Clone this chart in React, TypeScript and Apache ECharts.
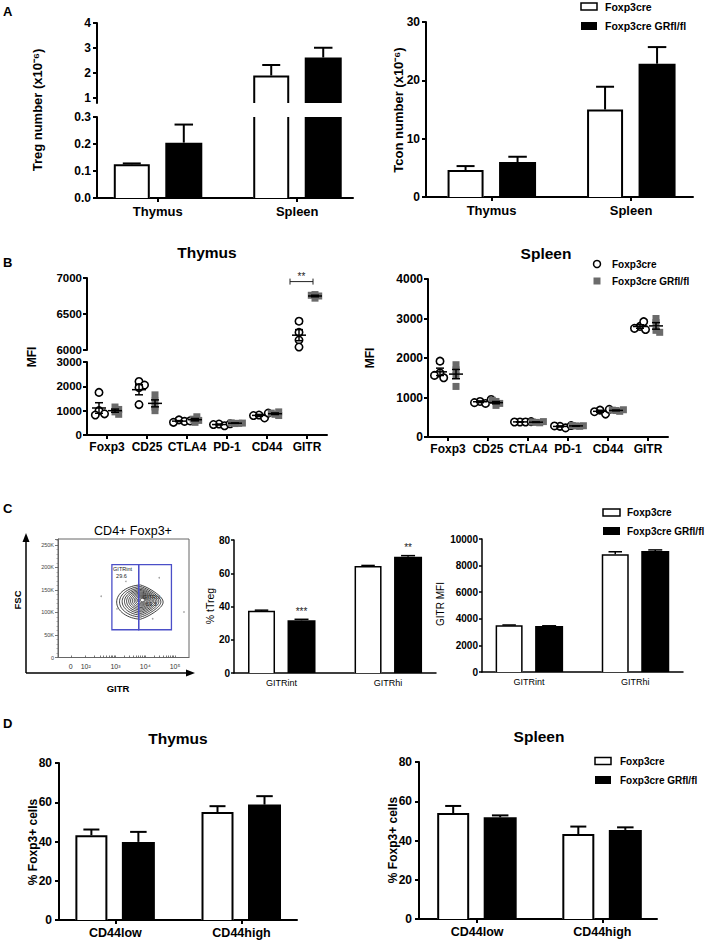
import React, { useEffect, useRef } from 'react';
import * as echarts from 'echarts';

const FONT = 'Arial, "Liberation Sans", Helvetica, sans-serif';

// ---------------- Panel A ----------------
const aCategories = ['Thymus', 'Spleen'];
const tregCreMean = [0.125, 1.9];
const tregCreSem = [0.003, 0.42];
const tregKoMean = [0.205, 2.62];
const tregKoSem = [0.067, 0.39];
const tregUpperTicks = [1, 2, 3, 4];
const tconCreMean = [4.63, 15.0];
const tconCreSem = [0.67, 3.9];
const tconKoMean = [6.0, 22.85];
const tconKoSem = [0.9, 2.85];

// ---------------- Panel B ----------------
const bMarkers = ['Foxp3', 'CD25', 'CTLA4', 'PD-1', 'CD44', 'GITR'];
const thyCre = [
  [1750, 1000, 870, 820],
  [2200, 2050, 1950, 1250],
  [620, 560, 520, 580],
  [450, 380, 430, 460],
  [820, 700, 800, 900],
  [6400, 6245, 6138, 6041],
];
const thyKo = [
  [1150, 1050, 950, 850],
  [1650, 1400, 1150, 1000],
  [520, 600, 650, 750],
  [470, 480, 500, 490],
  [850, 800, 900, 950],
  [6720, 6750, 6770, 6760],
];
const splCre = [
  [1920, 1620, 1500, 1560],
  [900, 850, 870, 950],
  [380, 380, 380, 390],
  [270, 230, 280, 290],
  [680, 580, 640, 700],
  [2800, 2720, 2750, 2920],
];
const splKo = [
  [1830, 1700, 1560, 1280],
  [900, 800, 850, 930],
  [370, 360, 380, 390],
  [280, 270, 290, 285],
  [670, 650, 680, 690],
  [3000, 2900, 2700, 2650],
];
const thySigCats = [5];
const thySigValues = [6950];
const thySigLabels = ['**'];

// ---------------- Panel C ----------------
const gitrCategories = ['GITRint', 'GITRhi'];
const tTregCreMean = [37.4, 64.4];
const tTregCreSem = [0.4, 0.3];
const tTregKoMean = [31.7, 70.0];
const tTregKoSem = [0.6, 0.6];
const tTregSig = ['***', '**'];
const gitrMfiCreMean = [3520, 8850];
const gitrMfiCreSem = [15, 190];
const gitrMfiKoMean = [3460, 9090];
const gitrMfiKoSem = [15, 90];

// flow plot
const flowXTickPos = [1.5, 2, 3, 4, 5];
const flowXTickLabels = ['0', '10²', '10³', '10⁴', '10⁵'];
const gateNames = ['GITRint', 'GITRhi'];
const gatePct = ['29.6', '69.3'];
const gateX0 = [2.88, 3.78];
const gateX1 = [3.78, 4.88];
const gateY0 = [61600, 61600];
const gateY1 = [206000, 206000];
const gateLabelX = [2.92, 3.92];
const gateLabelY = [203000, 141000];
const contourScale = [1, 0.89, 0.79, 0.7, 0.62, 0.54, 0.47, 0.4, 0.33, 0.27, 0.21, 0.15, 0.1];
const contourCenterX = 3.84;
const contourCenterY = 123000;
const flowDots = [
  [2.52, 136000],
  [4.47, 177000],
  [5.3, 101000],
  [3.35, 169000],
  [4.25, 86000],
  [3.05, 108000],
];

// ---------------- Panel D ----------------
const cd44Categories = ['CD44low', 'CD44high'];
const dThyCreMean = [43.2, 55.0];
const dThyCreSem = [2.9, 3.0];
const dThyKoMean = [39.8, 58.8];
const dThyKoSem = [5.1, 4.3];
const dSplCreMean = [54.0, 43.3];
const dSplCreSem = [3.6, 3.8];
const dSplKoMean = [51.8, 45.4];
const dSplKoSem = [1.0, 1.3];

// ---------------- helpers ----------------
const BLACK = '#000';
const GRAY = '#6b6b6b';
const DOT_R = 3.7;
const SQ = 7;

const avg = (a: number[]) => a.reduce((s, v) => s + v, 0) / a.length;
const sem = (a: number[]) => {
  const m = avg(a);
  const v = a.reduce((s, x) => s + (x - m) * (x - m), 0) / (a.length - 1);
  return Math.sqrt(v / a.length);
};

function swarm(ys: number[], r: number, minDist: number): number[] {
  const placed: number[][] = [];
  const out: number[] = [];
  const cands: number[] = [0];
  for (let k = 1; k <= 10; k++) cands.push(k * 0.5 * r, -k * 0.5 * r);
  ys.forEach((y) => {
    let chosen = 0;
    for (const dx of cands) {
      if (placed.every((p) => Math.hypot(p[0] - dx, p[1] - y) >= minDist)) {
        chosen = dx;
        break;
      }
    }
    placed.push([chosen, y]);
    out.push(chosen);
  });
  return out;
}

function barSeries(gi: number, means: number[], sems: number[], filled: boolean, offset: number, width: number, sig?: string[], lw = 2) {
  return {
    type: 'custom',
    xAxisIndex: gi,
    yAxisIndex: gi,
    clip: false,
    z: 3,
    data: means.map((m, i) => [i + 1, m, sems[i]]),
    renderItem: (params: any, api: any) => {
      const cs = params.coordSys;
      const xv = api.value(0);
      const m = api.value(1);
      const e = api.value(2);
      const p = api.coord([xv, m]);
      const gTop = cs.y;
      const gBot = cs.y + cs.height;
      const y0 = Math.min(api.coord([xv, 0])[1], gBot);
      if (p[1] >= y0) return null;
      const openTop = p[1] < gTop;
      const yTop = Math.max(p[1], gTop);
      const cx = p[0] + offset;
      const x0 = cx - width / 2;
      const x1 = cx + width / 2;
      const children: any[] = [];
      if (filled) {
        children.push({ type: 'rect', shape: { x: x0, y: yTop, width, height: y0 - yTop }, style: { fill: BLACK } });
      } else {
        children.push({ type: 'rect', shape: { x: x0, y: yTop, width, height: y0 - yTop }, style: { fill: '#fff' } });
        const lx0 = x0 + lw / 2;
        const lx1 = x1 - lw / 2;
        if (openTop) {
          children.push({ type: 'line', shape: { x1: lx0, y1: yTop, x2: lx0, y2: y0 }, style: { stroke: BLACK, lineWidth: lw } });
          children.push({ type: 'line', shape: { x1: lx1, y1: yTop, x2: lx1, y2: y0 }, style: { stroke: BLACK, lineWidth: lw } });
        } else {
          children.push({
            type: 'polyline',
            shape: { points: [[lx0, y0], [lx0, yTop + lw / 2], [lx1, yTop + lw / 2], [lx1, y0]] },
            style: { stroke: BLACK, lineWidth: lw, fill: 'none', lineJoin: 'miter' },
          });
        }
      }
      let yLabel = yTop;
      if (!openTop && e > 0) {
        const ye = api.coord([xv, m + e])[1];
        if (ye >= gTop - 1) {
          const capW = width / 2;
          children.push({ type: 'line', shape: { x1: cx, y1: yTop, x2: cx, y2: ye }, style: { stroke: BLACK, lineWidth: lw } });
          children.push({ type: 'line', shape: { x1: cx - capW / 2, y1: ye, x2: cx + capW / 2, y2: ye }, style: { stroke: BLACK, lineWidth: lw } });
          yLabel = ye;
        }
      }
      if (sig && sig[xv - 1]) {
        children.push({
          type: 'text',
          x: cx,
          y: yLabel - 8,
          style: { text: sig[xv - 1], fill: '#222', font: `10px ${FONT}`, textAlign: 'center', textVerticalAlign: 'middle' },
        });
      }
      return { type: 'group', children };
    },
  };
}

function dotSeries(gi: number, groups: number[][], kind: string, offset: number) {
  const data: number[][] = [];
  groups.forEach((vals, c) => vals.forEach((v, j) => data.push([c, v, j])));
  const minDist = kind === 'circle' ? 1.5 * DOT_R : 0.9 * DOT_R;
  return {
    type: 'custom',
    xAxisIndex: gi,
    yAxisIndex: gi,
    clip: false,
    z: 2,
    data,
    renderItem: (params: any, api: any) => {
      const c = api.value(0);
      const v = api.value(1);
      const j = api.value(2);
      const cs = params.coordSys;
      const p = api.coord([c, v]);
      if (p[1] < cs.y - 1 || p[1] > cs.y + cs.height + 1) return null;
      const ys = groups[c].map((val) => api.coord([c, val])[1]);
      const offs = swarm(ys, DOT_R, minDist);
      const x = p[0] + offset + offs[j];
      if (kind === 'circle') {
        return { type: 'circle', shape: { cx: x, cy: p[1], r: DOT_R }, style: { fill: '#fff', stroke: BLACK, lineWidth: 1.6 } };
      }
      return { type: 'rect', shape: { x: x - SQ / 2, y: p[1] - SQ / 2, width: SQ, height: SQ }, style: { fill: GRAY } };
    },
  };
}

function meanSeries(gi: number, groups: number[][], offset: number) {
  return {
    type: 'custom',
    xAxisIndex: gi,
    yAxisIndex: gi,
    clip: false,
    z: 4,
    data: groups.map((vals, c) => [c, avg(vals), sem(vals)]),
    renderItem: (params: any, api: any) => {
      const c = api.value(0);
      const m = api.value(1);
      const s = api.value(2);
      const cs = params.coordSys;
      const p = api.coord([c, m]);
      if (p[1] < cs.y - 1 || p[1] > cs.y + cs.height + 1) return null;
      const x = p[0] + offset;
      const yHi = api.coord([c, m + s])[1];
      const yLo = api.coord([c, m - s])[1];
      const st = { stroke: BLACK, lineWidth: 1.5 };
      return {
        type: 'group',
        children: [
          { type: 'line', shape: { x1: x - 7, y1: p[1], x2: x + 7, y2: p[1] }, style: st },
          { type: 'line', shape: { x1: x, y1: yLo, x2: x, y2: yHi }, style: st },
          { type: 'line', shape: { x1: x - 4, y1: yHi, x2: x + 4, y2: yHi }, style: st },
          { type: 'line', shape: { x1: x - 4, y1: yLo, x2: x + 4, y2: yLo }, style: st },
        ],
      };
    },
  };
}

function sigBracketSeries(gi: number) {
  return {
    type: 'custom',
    xAxisIndex: gi,
    yAxisIndex: gi,
    clip: false,
    z: 5,
    data: thySigCats.map((c, i) => [c, thySigValues[i], i]),
    renderItem: (params: any, api: any) => {
      const p = api.coord([api.value(0), api.value(1)]);
      const lab = thySigLabels[api.value(2)];
      const x0 = p[0] - 17;
      const x1 = p[0] + 6;
      const st = { stroke: '#222', lineWidth: 1 };
      return {
        type: 'group',
        children: [
          { type: 'line', shape: { x1: x0, y1: p[1], x2: x1, y2: p[1] }, style: st },
          { type: 'line', shape: { x1: x0, y1: p[1] - 3, x2: x0, y2: p[1] + 3 }, style: st },
          { type: 'line', shape: { x1: x1, y1: p[1] - 3, x2: x1, y2: p[1] + 3 }, style: st },
          {
            type: 'text',
            x: (x0 + x1) / 2,
            y: p[1] - 5,
            style: { text: lab, fill: '#222', font: `10px ${FONT}`, textAlign: 'center', textVerticalAlign: 'middle' },
          },
        ],
      };
    },
  };
}

function buildOption() {
  const grids: any[] = [];
  const xAxes: any[] = [];
  const yAxes: any[] = [];
  const series: any[] = [];
  const addGrid = (left: number, top: number, width: number, height: number, extra: any = {}) => {
    grids.push({ left, top, width, height, containLabel: false, ...extra });
    return grids.length - 1;
  };
  const axLine = (w = 2, c = BLACK) => ({ show: true, onZero: false, lineStyle: { color: c, width: w } });
  const catX = (gi: number, cats: string[], min: number, max: number, fs: number, weight: string, margin: number, lw = 2, tickLen = 4) => {
    const pos = cats.map((_, i) => i + 1);
    return {
      gridIndex: gi,
      type: 'value',
      min,
      max,
      axisLine: axLine(lw),
      axisTick: { show: tickLen > 0, customValues: pos, length: tickLen, lineStyle: { color: BLACK, width: lw } },
      axisLabel: {
        show: true,
        customValues: pos,
        formatter: (v: number) => cats[Math.round(v) - 1] ?? '',
        color: BLACK,
        fontFamily: FONT,
        fontSize: fs,
        fontWeight: weight,
        margin,
      },
      splitLine: { show: false },
    };
  };
  const valY = (gi: number, min: number, max: number, interval: number | undefined, fs: number, margin: number, tickLen = 4, lw = 2, extraLabel: any = {}, extraTick: any = {}) => ({
    gridIndex: gi,
    type: 'value',
    min,
    max,
    interval,
    axisLine: axLine(lw),
    axisTick: { show: true, length: tickLen, lineStyle: { color: BLACK, width: lw }, ...extraTick },
    axisLabel: {
      color: BLACK,
      fontFamily: FONT,
      fontSize: fs,
      fontWeight: 'bold',
      margin,
      lineHeight: fs,
      formatter: (v: number) => String(Math.round(v * 1000) / 1000),
      ...extraLabel,
    },
    splitLine: { show: false },
  });
  const catAxis = (gi: number, show: boolean) => ({
    gridIndex: gi,
    type: 'category',
    data: bMarkers,
    show,
    axisLine: axLine(2),
    axisTick: { show: true, alignWithLabel: true, length: 4, lineStyle: { color: BLACK, width: 2 } },
    axisLabel: { color: BLACK, fontFamily: FONT, fontSize: 12, fontWeight: 'bold', margin: 6, interval: 0 },
    splitLine: { show: false },
  });

  // ---- A left (broken axis) ----
  const gAU = addGrid(97, 23, 256, 80);
  xAxes.push({ gridIndex: gAU, type: 'value', min: 0.564, max: 2.4, show: false });
  yAxes.push(valY(gAU, 0.8, 4, undefined, 12, 6, 4, 2, { customValues: tregUpperTicks }, { customValues: tregUpperTicks }));
  const gAL = addGrid(97, 117, 256, 81);
  xAxes.push(catX(gAL, aCategories, 0.564, 2.4, 13, 'bold', 7));
  yAxes.push(valY(gAL, 0, 0.3, 0.1, 12, 6, 4, 2, { formatter: (v: number) => v.toFixed(1) }));
  [gAU, gAL].forEach((g) => {
    series.push(barSeries(g, tregCreMean, tregCreSem, false, -26, 36));
    series.push(barSeries(g, tregKoMean, tregKoSem, true, 26, 37));
  });

  // ---- A right ----
  const gAR = addGrid(426, 22, 267, 175);
  xAxes.push(catX(gAR, aCategories, 0.53, 2.444, 13, 'bold', 7));
  yAxes.push(valY(gAR, 0, 30, 10, 12, 6));
  series.push(barSeries(gAR, tconCreMean, tconCreSem, false, -26, 36));
  series.push(barSeries(gAR, tconKoMean, tconKoSem, true, 26, 37));

  // ---- B left (broken axis) ----
  const gBU = addGrid(87, 278, 240, 72);
  xAxes.push(catAxis(gBU, false));
  yAxes.push(valY(gBU, 6000, 7000, 500, 11.5, 5, 4, 2, { lineHeight: 10 }));
  const gBL = addGrid(87, 362, 240, 73);
  xAxes.push(catAxis(gBL, true));
  yAxes.push(valY(gBL, 0, 3000, 1000, 11.5, 5, 4, 2, { lineHeight: 10 }));
  [gBU, gBL].forEach((g) => {
    series.push(dotSeries(g, thyCre, 'circle', -8));
    series.push(dotSeries(g, thyKo, 'square', 8));
    series.push(meanSeries(g, thyCre, -8));
    series.push(meanSeries(g, thyKo, 8));
  });
  series.push(sigBracketSeries(gBU));

  // ---- B right ----
  const gBR = addGrid(428, 279, 240, 158);
  xAxes.push(catAxis(gBR, true));
  yAxes.push(valY(gBR, 0, 4000, 1000, 12, 5));
  series.push(dotSeries(gBR, splCre, 'circle', -8));
  series.push(dotSeries(gBR, splKo, 'square', 8));
  series.push(meanSeries(gBR, splCre, -8));
  series.push(meanSeries(gBR, splKo, 8));

  // ---- C flow plot ----
  const gF = addGrid(58, 539, 131, 118.5, { show: true, borderColor: '#666', borderWidth: 1, backgroundColor: 'transparent' });
  const flowMinorTicks: number[] = [1.5];
  for (let d = 2; d < 5; d++) for (let k = 1; k < 10; k++) flowMinorTicks.push(d + Math.log10(k));
  flowMinorTicks.push(5);
  xAxes.push({
    gridIndex: gF,
    type: 'value',
    min: 1.07,
    max: 5.47,
    axisLine: axLine(1, '#666'),
    axisTick: { show: true, customValues: flowMinorTicks, length: 2, inside: true, lineStyle: { color: '#555', width: 0.8 } },
    axisLabel: {
      show: true,
      customValues: flowXTickPos,
      formatter: (v: number) => {
        const i = flowXTickPos.findIndex((p) => Math.abs(p - v) < 1e-6);
        return i >= 0 ? flowXTickLabels[i] : '';
      },
      color: '#333',
      fontFamily: FONT,
      fontSize: 7,
      margin: 5,
    },
    splitLine: { show: false },
  });
  yAxes.push({
    gridIndex: gF,
    type: 'value',
    min: 0,
    max: 263000,
    interval: 50000,
    axisLine: axLine(1, '#666'),
    axisTick: { show: true, length: 3, lineStyle: { color: '#555', width: 0.8 } },
    minorTick: { show: true, splitNumber: 5, length: 1.5, lineStyle: { color: '#777', width: 0.6 } },
    axisLabel: {
      color: '#444',
      fontFamily: FONT,
      fontSize: 5.5,
      margin: 4,
      showMaxLabel: false,
      formatter: (v: number) => (v === 0 ? '0' : v % 50000 === 0 ? `${v / 1000}K` : ''),
    },
    splitLine: { show: false },
  });
  series.push({
    type: 'custom',
    xAxisIndex: gF,
    yAxisIndex: gF,
    clip: false,
    z: 2,
    data: contourScale.map((s) => [contourCenterX, contourCenterY, s]),
    renderItem: (params: any, api: any) => {
      const s = api.value(2);
      const cx = api.value(0) + 0.08 * (1 - s);
      const cy = api.value(1) + 5000 * (1 - s);
      const pts: number[][] = [];
      for (let i = 0; i < 64; i++) {
        const t = (i / 64) * Math.PI * 2;
        const ct = Math.cos(t);
        const st = Math.sin(t);
        const rx = (ct < 0 ? 0.8 : 0.76) * s;
        const ry = 38000 * s * (ct > 0 ? 1 - 0.4 * ct : 1 + 0.05 * ct);
        pts.push(api.coord([cx + rx * ct, cy + ry * st]));
      }
      return { type: 'polygon', shape: { points: pts }, style: { fill: 'none', stroke: '#111', lineWidth: 0.8 } };
    },
  });
  series.push({
    type: 'scatter',
    xAxisIndex: gF,
    yAxisIndex: gF,
    data: flowDots,
    symbolSize: 1.6,
    itemStyle: { color: '#8a8a8a' },
    silent: true,
  });
  series.push({
    type: 'custom',
    xAxisIndex: gF,
    yAxisIndex: gF,
    clip: false,
    z: 5,
    data: gateNames.map((_, i) => [gateX0[i], gateY0[i], i]),
    renderItem: (params: any, api: any) => {
      const i = api.value(2);
      const a = api.coord([gateX0[i], gateY1[i]]);
      const b = api.coord([gateX1[i], gateY0[i]]);
      const l = api.coord([gateLabelX[i], gateLabelY[i]]);
      const font = `5.5px ${FONT}`;
      return {
        type: 'group',
        children: [
          { type: 'rect', shape: { x: a[0], y: a[1], width: b[0] - a[0], height: b[1] - a[1] }, style: { fill: 'none', stroke: '#4b4fc8', lineWidth: 1.3 } },
          { type: 'text', x: l[0], y: l[1], style: { text: gateNames[i], fill: '#222', font, textAlign: 'left', textVerticalAlign: 'top' } },
          { type: 'text', x: l[0] + 3, y: l[1] + 7, style: { text: gatePct[i], fill: '#222', font, textAlign: 'left', textVerticalAlign: 'top' } },
        ],
      };
    },
  });

  // ---- C middle ----
  const gCM = addGrid(234, 540, 202, 133);
  xAxes.push(catX(gCM, gitrCategories, 0.554, 2.45, 9, 'normal', 5, 1.5, 0));
  yAxes.push(valY(gCM, 0, 80, 20, 10, 4, 3, 1.5));
  series.push(barSeries(gCM, tTregCreMean, tTregCreSem, false, -20, 27, undefined, 1.5));
  series.push(barSeries(gCM, tTregKoMean, tTregKoSem, true, 20, 28, tTregSig, 1.5));

  // ---- C right ----
  const gCR = addGrid(482, 539, 201, 133);
  xAxes.push(catX(gCR, gitrCategories, 0.556, 2.45, 9, 'normal', 5, 1.5, 0));
  yAxes.push(valY(gCR, 0, 10000, 2000, 10, 4, 3, 1.5));
  series.push(barSeries(gCR, gitrMfiCreMean, gitrMfiCreSem, false, -20, 27, undefined, 1.5));
  series.push(barSeries(gCR, gitrMfiKoMean, gitrMfiKoSem, true, 20, 28, undefined, 1.5));

  // ---- D left ----
  const gDL = addGrid(59, 763, 238, 157);
  xAxes.push(catX(gDL, cd44Categories, 0.553, 2.44, 12.5, 'bold', 6));
  yAxes.push(valY(gDL, 0, 80, 20, 12, 7));
  series.push(barSeries(gDL, dThyCreMean, dThyCreSem, false, -24, 32));
  series.push(barSeries(gDL, dThyKoMean, dThyKoSem, true, 23, 33));

  // ---- D right ----
  const gDR = addGrid(419, 762, 238, 157);
  xAxes.push(catX(gDR, cd44Categories, 0.535, 2.437, 12.5, 'bold', 6));
  yAxes.push(valY(gDR, 0, 80, 20, 12, 7));
  series.push(barSeries(gDR, dSplCreMean, dSplCreSem, false, -24, 32));
  series.push(barSeries(gDR, dSplKoMean, dSplKoSem, true, 23, 33));

  // ---- graphics: titles, axis names, legends ----
  const txt = (x: number, y: number, text: string, font: string, align = 'left', fill = BLACK) => ({
    type: 'text',
    x,
    y,
    silent: true,
    style: { text, font, fill, textAlign: align, textVerticalAlign: 'middle' },
  });
  const vtxt = (x: number, y: number, text: string, font: string) => ({
    type: 'text',
    x,
    y,
    rotation: Math.PI / 2,
    silent: true,
    style: { text, font, fill: BLACK, textAlign: 'center', textVerticalAlign: 'middle' },
  });
  const B = (s: number) => `bold ${s}px ${FONT}`;
  const N = (s: number) => `${s}px ${FONT}`;
  const boxLegend = (x: number, y1: number, y2: number, tx: number, fs: number, w = 16) => [
    { type: 'rect', shape: { x, y: y1 - 3.5, width: w, height: 7 }, style: { fill: '#fff', stroke: BLACK, lineWidth: 1.5 } },
    { type: 'rect', shape: { x, y: y2 - 4, width: w, height: 8 }, style: { fill: BLACK } },
    txt(tx, y1, 'Foxp3cre', B(fs)),
    txt(tx, y2, 'Foxp3cre GRfl/fl', B(fs)),
  ];

  const graphics: any[] = [
    txt(3, 11, 'A', B(13)),
    txt(3, 262, 'B', B(13)),
    txt(3, 508, 'C', B(13)),
    txt(3, 723, 'D', B(13)),
    vtxt(37, 110, 'Treg number (x10⁻⁶)', B(13)),
    vtxt(398, 110, 'Tcon number (x10⁻⁶)', B(13)),
    txt(207, 252, 'Thymus', B(15.5), 'center'),
    txt(546, 253, 'Spleen', B(15.5), 'center'),
    vtxt(32, 357, 'MFI', B(12)),
    vtxt(370, 358, 'MFI', B(12)),
    txt(133, 531, 'CD4+ Foxp3+', N(12.5), 'center'),
    vtxt(17, 600, 'FSC', B(9.5)),
    txt(118, 688, 'GITR', B(9.5), 'center'),
    vtxt(210, 606, '% tTreg', N(10.5)),
    vtxt(440, 604, 'GITR MFI', N(10)),
    txt(178, 738, 'Thymus', B(15.5), 'center'),
    txt(539, 736, 'Spleen', B(15.5), 'center'),
    vtxt(33, 842, '% Foxp3+ cells', B(12)),
    vtxt(393, 840, '% Foxp3+ cells', B(12)),
    // flow axes arrows
    { type: 'line', shape: { x1: 26, y1: 673, x2: 26, y2: 540 }, style: { stroke: BLACK, lineWidth: 1.5 } },
    { type: 'polygon', shape: { points: [[26, 533], [22.5, 542], [29.5, 542]] }, style: { fill: BLACK } },
    { type: 'line', shape: { x1: 26, y1: 673, x2: 188, y2: 673 }, style: { stroke: BLACK, lineWidth: 1.5 } },
    { type: 'polygon', shape: { points: [[195, 673], [186, 669.5], [186, 676.5]] }, style: { fill: BLACK } },
    // B right legend
    { type: 'circle', shape: { cx: 597, cy: 264, r: 3.5 }, style: { fill: '#fff', stroke: BLACK, lineWidth: 1.5 } },
    { type: 'rect', shape: { x: 593.5, y: 277.5, width: 7, height: 7 }, style: { fill: GRAY } },
    txt(612, 264, 'Foxp3cre', B(10)),
    txt(612, 281, 'Foxp3cre GRfl/fl', B(10)),
    ...boxLegend(581, 6.5, 26, 605, 10.5),
    ...boxLegend(603, 512.5, 531, 627, 10, 17),
    ...boxLegend(595, 761, 780, 620, 10),
  ];

  return {
    animation: false,
    textStyle: { fontFamily: FONT },
    grid: grids,
    xAxis: xAxes,
    yAxis: yAxes,
    series,
    graphic: { elements: graphics },
  };
}

export default function App() {
  const ref = useRef<HTMLDivElement>(null);
  useEffect(() => {
    if (!ref.current) return;
    const chart = echarts.init(ref.current, undefined, { renderer: 'svg' });
    chart.setOption(buildOption() as any);
    return () => chart.dispose();
  }, []);
  return <div ref={ref} style={{ position: 'absolute', left: 0, top: 0, width: 708, height: 941, background: '#fff' }} />;
}
